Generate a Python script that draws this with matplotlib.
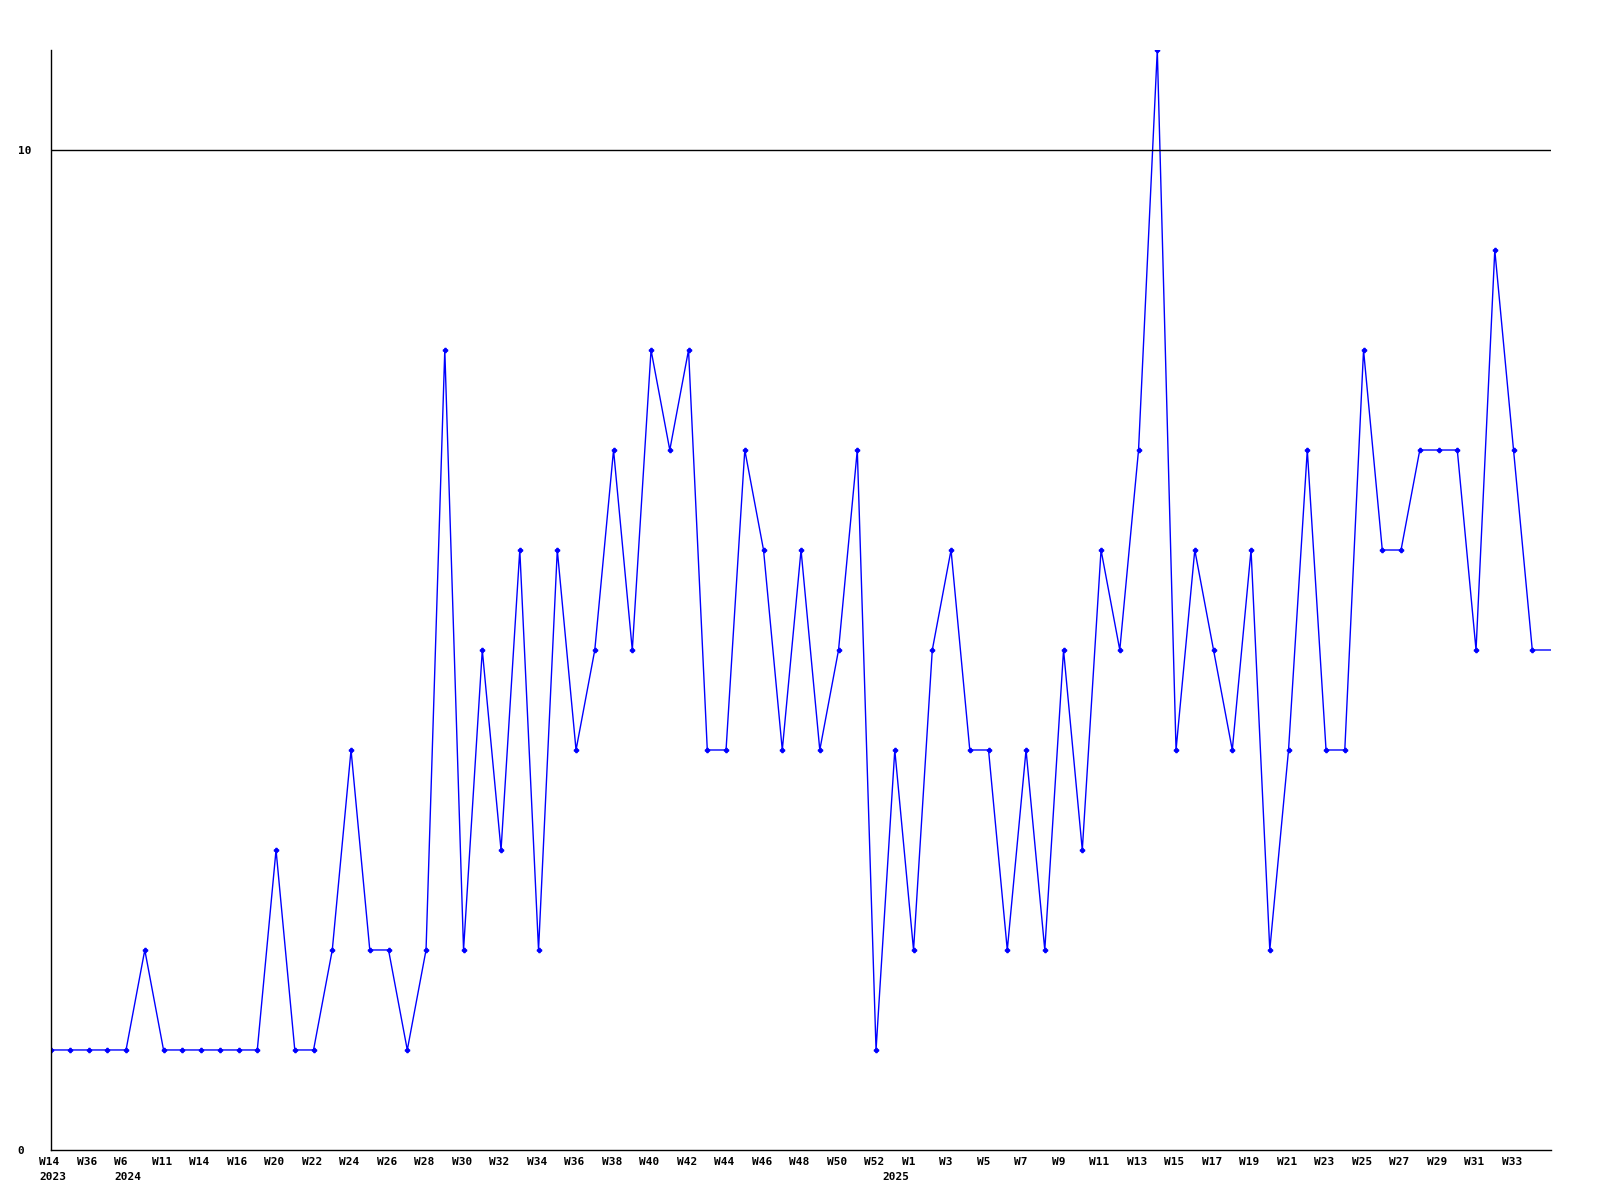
import matplotlib
matplotlib.use("Agg")
import matplotlib.pyplot as plt
import matplotlib.transforms as mtransforms

# weekly counts, one per week that has data (last one is the running week)
values = [1, 1, 1, 1, 1, 2, 1, 1, 1, 1, 1, 1, 3, 1, 1, 2, 4, 2, 2, 1,
          2, 8, 2, 5, 3, 6, 2, 6, 4, 5, 7, 5, 8, 7, 8, 4, 4, 7, 6, 4,
          6, 4, 5, 7, 1, 4, 2, 5, 6, 4, 4, 2, 4, 2, 5, 3, 6, 5, 7, 11,
          4, 6, 5, 4, 6, 2, 4, 7, 4, 4, 8, 6, 6, 7, 7, 7, 5, 9, 7, 5, 5]

week_pos = list(range(0, 80, 2))
week_labels = ["W14", "W36", "W6", "W11", "W14", "W16", "W20", "W22", "W24", "W26",
               "W28", "W30", "W32", "W34", "W36", "W38", "W40", "W42", "W44", "W46",
               "W48", "W50", "W52", "W1", "W3", "W5", "W7", "W9", "W11", "W13",
               "W15", "W17", "W19", "W21", "W23", "W25", "W27", "W29", "W31", "W33"]
year_pos = [0, 4, 45]
year_labels = ["2023", "2024", "2025"]

fig = plt.figure(figsize=(16, 12), dpi=100)
ax = fig.add_axes([0.0319, 0.0417, 0.9375, 0.9166])

x = list(range(len(values)))
ax.plot(x, values, color="#0000ff", linewidth=1.0, marker="P", markersize=3,
        markevery=list(range(len(values) - 1)), clip_on=True)

ax.set_xlim(0, len(values) - 1)
ax.set_ylim(0, 11)
ax.axhline(10, color="black", linewidth=1.0)

for s in ["top", "right"]:
    ax.spines[s].set_visible(False)
for s in ["left", "bottom"]:
    ax.spines[s].set_linewidth(1.0)

font = dict(family="DejaVu Sans Mono", weight="bold", size=8)

ax.set_yticks([0, 10])
ax.set_yticklabels(["0", "10"], **font)
ax.tick_params(axis="y", length=0, pad=24)
for t in ax.get_yticklabels():
    t.set_horizontalalignment("left")

ax.set_xticks(week_pos)
ax.set_xticklabels(week_labels, **font)
ax.tick_params(axis="x", length=0, pad=5)
shift = mtransforms.ScaledTranslation(-12 / 100, 0, fig.dpi_scale_trans)
for t in ax.get_xticklabels():
    t.set_horizontalalignment("left")
    t.set_transform(t.get_transform() + shift)

ytrans = mtransforms.blended_transform_factory(ax.transData, ax.transAxes)
for p, lab in zip(year_pos, year_labels):
    ax.text(p, 0, lab, transform=ytrans + shift + mtransforms.ScaledTranslation(0, -22 / 100, fig.dpi_scale_trans),
            ha="left", va="top", **font)

fig.savefig("out.png", dpi=100)
